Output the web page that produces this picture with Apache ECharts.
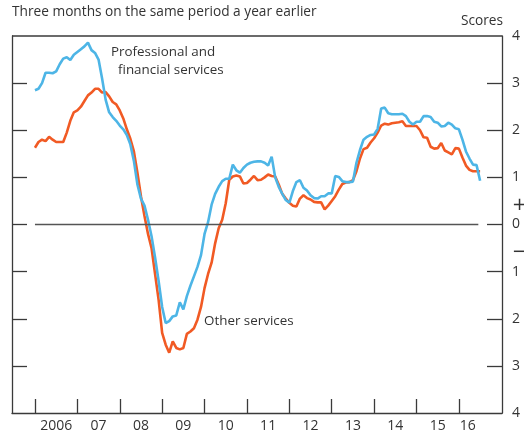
<!DOCTYPE html>
<html><head><meta charset="utf-8">
<script src="https://cdn.jsdelivr.net/npm/echarts@6/dist/echarts.min.js"></script>
<style>html,body{margin:0;padding:0;background:#fff}#c{width:524px;height:441px}</style>
</head><body><div id="c"></div>
<script>
// months counted from Jan 2006 (index 0) to Jul 2016 (index 126)
const yearTicks = [0,12,24,36,48,60,72,84,96,108,120];
const yearLabelPos = [6,18,30,42,54,66,78,90,102,114,122.5];
const yearLabels = ['2006','07','08','09','10','11','12','13','14','15','16'];
const yTickLabels = {'4':'4','3':'3','2':'2','1':'1','0':'0','-1':'1','-2':'2','-3':'3','-4':'4','0.41':'{pm|+}','-0.59':'{pm|\u2212}'};
const yLabelPos = [-4,-3,-2,-1,-0.59,0,0.41,1,2,3,4];
const professional = [2.85,2.88,3.0,3.22,3.22,3.21,3.25,3.40,3.52,3.55,3.49,3.60,3.66,3.72,3.78,3.86,3.70,3.64,3.50,3.10,2.65,2.38,2.28,2.20,2.10,2.02,1.90,1.70,1.35,0.85,0.55,0.40,0.10,-0.25,-0.70,-1.20,-1.75,-2.09,-2.05,-1.95,-1.93,-1.65,-1.80,-1.52,-1.30,-1.10,-0.90,-0.65,-0.20,0.05,0.42,0.65,0.80,0.92,0.97,0.97,1.27,1.15,1.10,1.20,1.27,1.31,1.33,1.34,1.34,1.31,1.25,1.44,1.0,0.80,0.65,0.52,0.46,0.71,0.90,0.94,0.78,0.72,0.62,0.56,0.55,0.60,0.60,0.66,0.66,1.03,1.01,0.92,0.90,0.90,0.91,1.31,1.58,1.80,1.86,1.90,1.91,2.03,2.46,2.48,2.36,2.34,2.34,2.34,2.35,2.30,2.18,2.12,2.18,2.18,2.30,2.30,2.28,2.18,2.16,2.08,2.09,2.16,2.12,2.04,2.02,1.80,1.55,1.40,1.27,1.26,0.93];
const other = [1.63,1.75,1.80,1.77,1.86,1.80,1.75,1.75,1.75,1.95,2.20,2.38,2.42,2.50,2.62,2.74,2.80,2.88,2.88,2.80,2.81,2.72,2.60,2.55,2.42,2.25,2.02,1.82,1.55,1.10,0.60,0.18,-0.20,-0.50,-1.05,-1.60,-2.30,-2.55,-2.72,-2.48,-2.62,-2.65,-2.62,-2.32,-2.27,-2.20,-2.02,-1.75,-1.35,-1.05,-0.81,-0.40,-0.08,0.10,0.45,0.95,1.02,1.04,1.02,0.87,0.88,0.95,1.03,0.94,0.95,1.00,1.06,1.03,1.02,0.85,0.65,0.55,0.46,0.40,0.38,0.55,0.62,0.56,0.53,0.48,0.47,0.47,0.32,0.40,0.50,0.60,0.74,0.86,0.89,0.90,0.94,1.13,1.40,1.60,1.63,1.74,1.83,1.95,2.10,2.14,2.12,2.15,2.16,2.17,2.19,2.09,2.09,2.09,2.09,2.00,1.85,1.84,1.65,1.61,1.62,1.73,1.57,1.53,1.49,1.62,1.61,1.42,1.25,1.16,1.13,1.13,1.13];

const FONT = '"Open Sans", "Noto Sans", sans-serif';
const AX = '#3a3a3a';
const chart = echarts.init(document.getElementById('c'), null, {renderer:'canvas'});
function yAxisDef(pos, showLabel){
  return {
    type:'value', min:-4, max:4, interval:1, position:pos,
    axisLine:{show:true, onZero:false, lineStyle:{color:AX, width:1.3}},
    axisTick:{show:true, inside:true, length:15, customValues:[-3,-2,-1,0,1,2,3], lineStyle:{color:AX, width:1.3}},
    splitLine:{show:false},
    axisLabel:showLabel ? {show:true, margin:10, color:'#333', fontFamily:FONT, fontSize:14,
        customValues:yLabelPos,
        rich:{pm:{fontSize:18, fontFamily:'"DejaVu Sans", sans-serif', color:'#333'}},
        formatter:function(v){ return yTickLabels[String(v)]; }} : {show:false}
  };
}
chart.setOption({
  animation:false,
  grid:{left:12, right:22, top:36, bottom:28, containLabel:false, outerBoundsMode:'none'},
  xAxis:{
    type:'value', min:-6.5, max:132.2,
    axisLine:{show:true, onZero:false, lineStyle:{color:AX, width:1.3}},
    axisTick:{show:true, inside:true, length:14, customValues:yearTicks, lineStyle:{color:AX, width:1.3}},
    axisLabel:{customValues:yearLabelPos, margin:6, color:'#333', fontFamily:FONT, fontSize:14,
      formatter:function(v){ const i = yearLabelPos.indexOf(v); return i>=0 ? yearLabels[i] : ''; }},
    splitLine:{show:false}
  },
  yAxis:[ yAxisDef('left', false), yAxisDef('right', true) ],
  graphic:[
    {type:'text', left:12, top:5, style:{text:'Three months on the same period a year earlier', fill:'#333', font:'13.7px '+FONT}},
    {type:'text', right:21, top:14, style:{text:'Scores', fill:'#333', font:'13.7px '+FONT}},
    {type:'line', shape:{x1:12,y1:36,x2:502,y2:36}, style:{stroke:AX, lineWidth:1.3}},
    {type:'text', left:111, top:46, style:{text:'Professional and', fill:'#333', font:'13.4px '+FONT}},
    {type:'text', left:118, top:64, style:{text:'financial services', fill:'#333', font:'13.4px '+FONT}},
    {type:'text', left:204, top:315, style:{text:'Other services', fill:'#333', font:'13.4px '+FONT}}
  ],
  series:[
    {type:'line', name:'Professional and financial services', data:professional.map((v,i)=>[i,v]),
      showSymbol:false, lineStyle:{color:'#4db5e6', width:2.6}, z:3,
      markLine:{silent:true, symbol:'none', label:{show:false},
        lineStyle:{color:'#555', width:1.3, type:'solid'},
        data:[[{coord:[0,0]},{coord:[125.5,0]}]]}},
    {type:'line', name:'Other services', data:other.map((v,i)=>[i,v]),
      showSymbol:false, lineStyle:{color:'#f15a24', width:2.6}, z:2}
  ]
});
</script></body></html>
